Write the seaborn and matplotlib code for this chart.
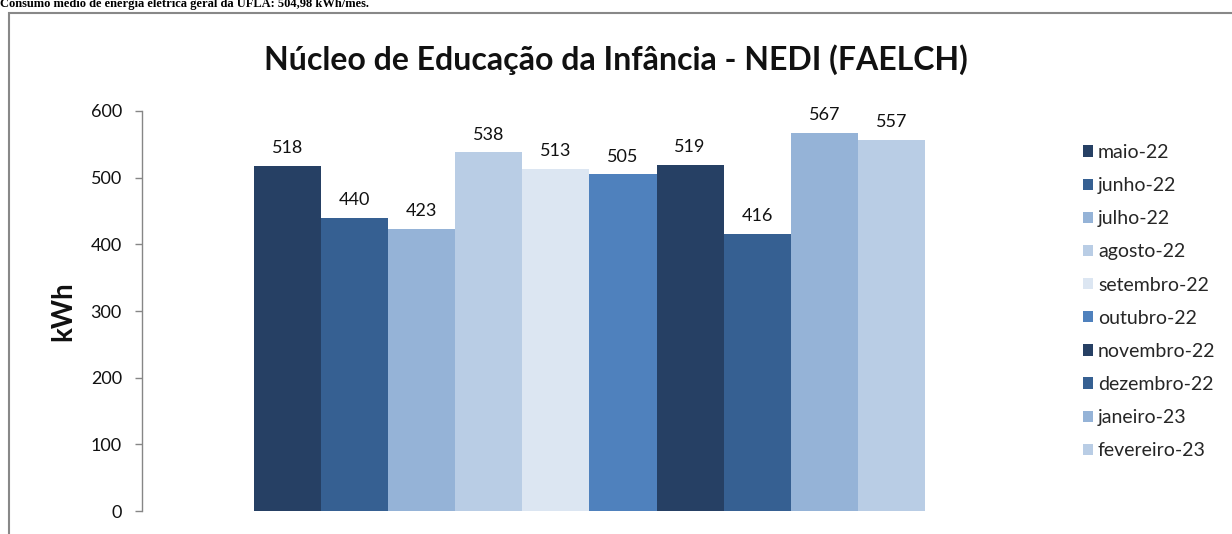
import matplotlib
matplotlib.use("Agg")
import matplotlib.pyplot as plt
import matplotlib.patches as mpatches
import seaborn as sns
import pandas as pd

months = ["maio-22", "junho-22", "julho-22", "agosto-22", "setembro-22",
          "outubro-22", "novembro-22", "dezembro-22", "janeiro-23", "fevereiro-23"]
values = [518, 440, 423, 538, 513, 505, 519, 416, 567, 557]
colors = ["#264064", "#366092", "#95b3d7", "#b9cde5", "#dce6f2",
          "#4f81bd", "#264064", "#366092", "#95b3d7", "#b9cde5"]
yticks = [0, 100, 200, 300, 400, 500, 600]
title = "Núcleo de Educação da Infância - NEDI (FAELCH)"
ylabel = "kWh"
header = "Consumo médio de energia elétrica geral da UFLA: 504,98 kWh/mês."

sns.set_style("white")
plt.rcParams['font.family'] = ['Lato', 'DejaVu Sans']

W, H = 1232, 534
fig = plt.figure(figsize=(W / 100, H / 100), dpi=100)

ax_l, ax_r, ax_t, ax_b = 142, 1037, 111, 511
ax = fig.add_axes([ax_l / W, (H - ax_b) / H, (ax_r - ax_l) / W, (ax_b - ax_t) / H])

df = pd.DataFrame({"mes": months, "kwh": values})
sns.barplot(data=df, x="mes", y="kwh", hue="mes", palette=colors,
            order=months, hue_order=months, dodge=False, width=1.0,
            legend=False, ax=ax, saturation=1.0, linewidth=0, edgecolor="none")

for cont in ax.containers:
    ax.bar_label(cont, fmt="%d", padding=7, fontsize=13, color="#111111")

ax.set_ylim(0, 600)
ax.set_yticks(yticks)
ax.set_yticklabels([str(t) for t in yticks], fontsize=13, color="#111111")
ax.set_xlim(-2.169, 11.169)
ax.set_xticks([])
ax.set_xlabel("")
ax.set_ylabel("")
for s in ["top", "right", "bottom"]:
    ax.spines[s].set_visible(False)
ax.spines["left"].set_color("#868686")
ax.spines["left"].set_linewidth(1.0)
ax.tick_params(axis="y", direction="out", length=5, width=1, color="#868686", pad=9.5, left=True)
ax.grid(False)

fig.text(63 / W, 1 - 311 / H, ylabel, rotation=90, ha="center", va="center",
         fontsize=20, fontweight="bold", color="#111111")

fig.text(0.5, 1 - 60 / H, title, ha="center", va="center", fontsize=23, fontweight="bold", color="#111111")

fig.text(0.0, 1 - 7.5 / H, header, ha="left", va="baseline", fontsize=9, fontweight="bold",
         family=["Liberation Serif", "DejaVu Serif"], color="#000000")

frame = mpatches.Rectangle((9 / W, -0.1), 1.2, 1 - 13 / H + 0.1, transform=fig.transFigure,
                           fill=False, edgecolor="#888888", linewidth=1.5, clip_on=False)
fig.add_artist(frame)

handles = [mpatches.Patch(facecolor=c, edgecolor="none") for c in colors]
fig.legend(handles, months, loc="upper left", bbox_to_anchor=(1083 / W, 1 - 144 / H),
           frameon=False, fontsize=14, handlelength=0.51, handleheight=0.51,
           handletextpad=0.26, labelspacing=0.83, borderpad=0, borderaxespad=0)

fig.savefig("out.png", dpi=100)
